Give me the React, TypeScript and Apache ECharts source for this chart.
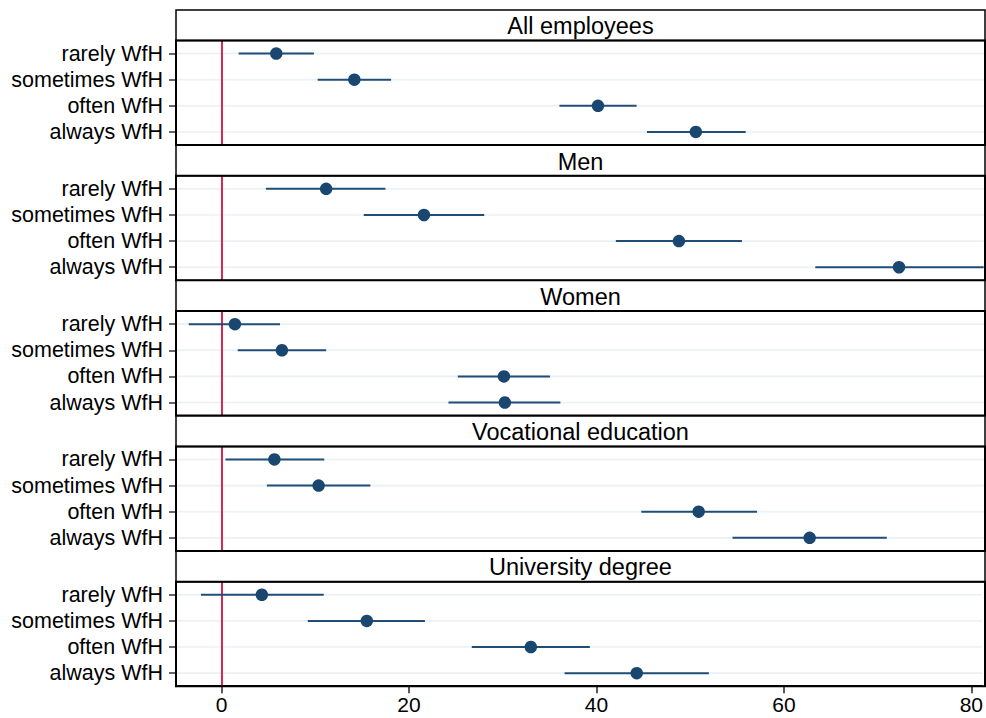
import React, { useEffect, useRef } from "react";
import * as echarts from "echarts";

const categories = ["rarely WfH", "sometimes WfH", "often WfH", "always WfH"];
const panelTitles = ["All employees", "Men", "Women", "Vocational education", "University degree"];
const xTicks = [0, 20, 40, 60, 80];

const estAll = [5.8, 14.1, 40.0, 50.4];
const loAll = [1.8, 10.2, 35.9, 45.2];
const hiAll = [9.8, 18.0, 44.1, 55.7];

const estMen = [11.1, 21.5, 48.6, 72.0];
const loMen = [4.7, 15.1, 41.9, 63.1];
const hiMen = [17.4, 27.9, 55.3, 81.0];

const estWomen = [1.4, 6.4, 30.0, 30.1];
const loWomen = [-3.5, 1.7, 25.1, 24.1];
const hiWomen = [6.2, 11.1, 34.9, 36.0];

const estVoc = [5.6, 10.3, 50.7, 62.5];
const loVoc = [0.4, 4.8, 44.6, 54.3];
const hiVoc = [10.9, 15.8, 56.9, 70.7];

const estUni = [4.3, 15.5, 33.0, 44.3];
const loUni = [-2.2, 9.2, 26.7, 36.6];
const hiUni = [10.9, 21.7, 39.3, 52.0];

const panels = [
  { est: estAll, lo: loAll, hi: hiAll },
  { est: estMen, lo: loMen, hi: hiMen },
  { est: estWomen, lo: loWomen, hi: hiWomen },
  { est: estVoc, lo: loVoc, hi: hiVoc },
  { est: estUni, lo: loUni, hi: hiUni },
];

const X_MIN = -4.86;
const X_MAX = 81.14;
const FONT = "'Liberation Sans', Arial, sans-serif";
const NAVY = "#1a476f";

export default function App() {
  const ref = useRef<HTMLDivElement>(null);
  useEffect(() => {
    document.body.style.margin = "0";
    const chart = echarts.init(ref.current!, undefined, { renderer: "svg" });
    const left = 176;
    const width = 809;
    const headerH = 30.5;
    const plotH = 104.5;
    const period = 135.3;
    const top0 = 10;

    const grids: any[] = [];
    const xAxes: any[] = [];
    const yAxes: any[] = [];
    const series: any[] = [];
    const graphics: any[] = [];

    panels.forEach((p, i) => {
      const hTop = top0 + i * period;
      const pTop = hTop + headerH;
      const last = i === panels.length - 1;
      grids.push({ left, top: pTop, width, height: plotH });
      xAxes.push({
        type: "value",
        gridIndex: i,
        min: X_MIN,
        max: X_MAX,
        splitLine: { show: false },
        axisLine: { show: last, onZero: false, lineStyle: { color: "#000", width: 2 } },
        axisTick: {
          show: last,
          length: 7,
          customValues: xTicks,
          lineStyle: { color: "#222", width: 1.5 },
        },
        axisLabel: {
          show: last,
          customValues: xTicks,
          fontSize: 21,
          fontFamily: FONT,
          color: "#000",
          margin: 8,
        },
      });
      yAxes.push({
        type: "category",
        gridIndex: i,
        data: categories,
        inverse: true,
        axisLine: { show: true, onZero: false, lineStyle: { color: "#000", width: 2 } },
        axisTick: {
          show: true,
          interval: 0,
          alignWithLabel: true,
          length: 7,
          lineStyle: { color: "#333", width: 1.5 },
        },
        axisLabel: { interval: 0, fontSize: 21.5, fontFamily: FONT, color: "#000", margin: 13 },
        splitLine: { show: false },
      });
      // background grid lines
      series.push({
        type: "custom",
        xAxisIndex: i,
        yAxisIndex: i,
        z: 1,
        silent: true,
        data: categories.map((_, k) => [X_MIN, X_MAX, k]),
        encode: { x: [0, 1], y: 2 },
        renderItem: (params: any, api: any) => {
          const cs = params.coordSys;
          const pt = api.coord([0, api.value(2)]);
          return {
            type: "line",
            shape: { x1: cs.x, y1: pt[1], x2: cs.x + cs.width, y2: pt[1] },
            style: { stroke: "#eaf0f3", lineWidth: 1.6 },
          };
        },
      });
      // confidence intervals
      series.push({
        type: "custom",
        xAxisIndex: i,
        yAxisIndex: i,
        z: 3,
        data: categories.map((_, k) => [p.lo[k], p.hi[k], k]),
        encode: { x: [0, 1], y: 2 },
        renderItem: (params: any, api: any) => {
          const a = api.coord([api.value(0), api.value(2)]);
          const b = api.coord([api.value(1), api.value(2)]);
          return {
            type: "line",
            shape: { x1: a[0], y1: a[1], x2: b[0], y2: b[1] },
            style: { stroke: "#1f4e79", lineWidth: 2 },
          };
        },
      });
      // point estimates
      series.push({
        type: "scatter",
        xAxisIndex: i,
        yAxisIndex: i,
        z: 4,
        symbol: "circle",
        symbolSize: 12.5,
        itemStyle: { color: NAVY, opacity: 1 },
        data: categories.map((_, k) => [p.est[k], k]),
        markLine: {
          silent: true,
          symbol: "none",
          label: { show: false },
          z: 2,
          lineStyle: { color: "#d81039", width: 1.8, type: "solid" },
          data: [{ xAxis: 0 }],
        },
      });
      graphics.push({
        type: "rect",
        shape: { x: left, y: hTop, width, height: headerH },
        style: { fill: "#fff", stroke: "#000", lineWidth: 1.5 },
        z: 10,
      });
      graphics.push({
        type: "text",
        x: left + width / 2,
        y: hTop + headerH / 2 + 1,
        style: {
          text: panelTitles[i],
          fontSize: 23.5,
          fontFamily: FONT,
          fill: "#000",
          textAlign: "center",
          textVerticalAlign: "middle",
        },
        z: 11,
      });
      graphics.push({
        type: "rect",
        shape: { x: left, y: pTop, width, height: plotH },
        style: { fill: "none", stroke: "#000", lineWidth: 2 },
        z: 10,
      });
    });

    chart.setOption({
      animation: false,
      backgroundColor: "#fff",
      grid: grids,
      xAxis: xAxes,
      yAxis: yAxes,
      series,
      graphic: graphics,
    });
    return () => chart.dispose();
  }, []);
  return <div ref={ref} style={{ width: 986, height: 718 }} />;
}
